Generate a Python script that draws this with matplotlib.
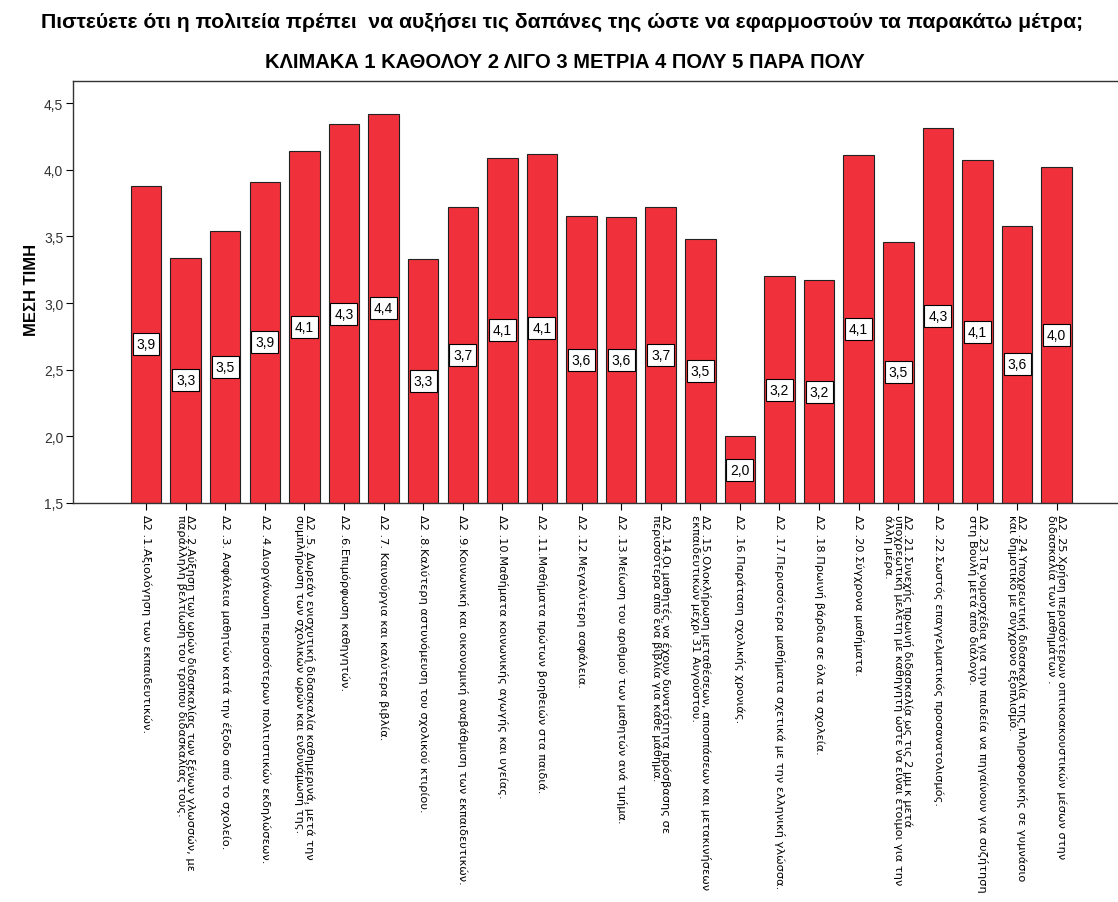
import matplotlib
matplotlib.use("Agg")
import matplotlib.pyplot as plt
import numpy as np

plt.rcParams['font.family'] = ['Liberation Sans', 'DejaVu Sans']

categories = [
    "Δ2 .1.Αξιολόγηση των εκπαιδευτικών.",
    "Δ2 .2.Αύξηση των ωρών διδασκαλίας των ξένων γλωσσών, με\nπαράλληλη βελτίωση του τρόπου διδασκαλίας τους.",
    "Δ2 .3. Ασφάλεια μαθητών κατά την έξοδο από το σχολείο.",
    "Δ2 .4.Διοργάνωση περισσότερων πολιτιστικών εκδηλώσεων.",
    "Δ2 .5. Δωρεάν ενισχυτική διδασκαλία καθημερινά, μετά την\nσυμπλήρωση των σχολικών ωρών και ενδυνάμωσή της.",
    "Δ2 .6.Επιμόρφωση καθηγητών.",
    "Δ2 .7. Καινούργια και καλύτερα βιβλία.",
    "Δ2 .8.Καλύτερη αστυνόμευση του σχολικού κτιρίου.",
    "Δ2 .9.Κοινωνική και οικονομική αναβάθμιση των εκπαιδευτικών.",
    "Δ2 .10.Μαθήματα κοινωνικής αγωγής και υγείας.",
    "Δ2 .11.Μαθήματα πρώτων βοηθειών στα παιδιά.",
    "Δ2 .12.Μεγαλύτερη ασφάλεια.",
    "Δ2 .13.Μείωση του αριθμού των μαθητών ανά τμήμα.",
    "Δ2 .14.Οι μαθητές να έχουν δυνατότητα πρόσβασης σε\nπερισσότερα από ένα βιβλία για κάθε μάθημα.",
    "Δ2 .15.Ολοκλήρωση μεταθέσεων, αποσπάσεων και μετακινήσεων\nεκπαιδευτικών μέχρι 31 Αυγούστου.",
    "Δ2 .16.Παράταση σχολικής χρονιάς.",
    "Δ2 .17.Περισσότερα μαθήματα σχετικά με την ελληνική γλώσσα.",
    "Δ2 .18.Πρωινή βάρδια σε όλα τα σχολεία.",
    "Δ2 .20.Σύγχρονα μαθήματα.",
    "Δ2 .21.Συνεχής πρωινή διδασκαλία ως τις 2 μμ κ μετά\nυποχρεωτική μελέτη με καθηγητή ώστε να είναι έτοιμοι για την\nάλλη μέρα.",
    "Δ2 .22.Σωστός επαγγελματικός προσανατολισμός.",
    "Δ2 .23.Τα νομοσχέδια για την παιδεία να πηγαίνουν για συζήτηση\nστη Βουλή μετά από διάλογο.",
    "Δ2 .24.Υποχρεωτική διδασκαλία της πληροφορικής σε γυμνάσιο\nκαι δημοτικό με σύγχρονο εξοπλισμό.",
    "Δ2 .25.Χρήση περισσότερων οπτικοακουστικών μέσων στην\nδιδασκαλία των μαθημάτων .",
]

means = [3.88, 3.34, 3.54, 3.91, 4.14, 4.34, 4.42, 3.33, 3.72, 4.09, 4.12, 3.65,
         3.645, 3.72, 3.48, 2.00, 3.20, 3.17, 4.11, 3.46, 4.31, 4.07, 3.58, 4.02]

yticks = [1.5, 2.0, 2.5, 3.0, 3.5, 4.0, 4.5]
ytick_labels = ["1,5", "2,0", "2,5", "3,0", "3,5", "4,0", "4,5"]

title1 = "Πιστεύετε ότι η πολιτεία πρέπει  να αυξήσει τις δαπάνες της ώστε να εφαρμοστούν τα παρακάτω μέτρα;"
title2 = "ΚΛΙΜΑΚΑ 1 ΚΑΘΟΛΟΥ 2 ΛΙΓΟ 3 ΜΕΤΡΙΑ 4 ΠΟΛΥ 5 ΠΑΡΑ ΠΟΛΥ"
ylabel = "ΜΕΣΗ ΤΙΜΗ"

W, H = 1118, 903
fig = plt.figure(figsize=(W / 100, H / 100), dpi=100)
ax = fig.add_axes([73 / W, 1 - 504 / H, 1 - 73 / W, (504 - 82) / H])

ymin, ymax = 1.5, 4.665
x = np.arange(len(means))
heights = [m - ymin for m in means]
ax.bar(x, heights, bottom=ymin, width=0.77, color="#F0313B",
       edgecolor="#222222", linewidth=0.8, zorder=2)

for xi, m in zip(x, means):
    lab = f"{m:.1f}".replace(".", ",")
    ax.text(xi, (m + ymin) / 2, lab, ha="center", va="center", fontsize=10,
            color="black", zorder=3,
            bbox=dict(boxstyle="square,pad=0.28", facecolor="white",
                      edgecolor="black", linewidth=0.8))

ax.set_xlim(-1.844, 24.55)
ax.set_ylim(ymin, ymax)
ax.set_yticks(yticks)
ax.set_yticklabels(ytick_labels, fontsize=10, color="#333333")
ax.set_xticks(x)
ax.set_xticklabels(categories, rotation=-90, rotation_mode="anchor",
                   ha="left", va="center", fontsize=8.2, linespacing=0.88,
                   family=["DejaVu Sans"])
ax.tick_params(axis="x", direction="out", length=5, width=0.8, pad=3)
ax.tick_params(axis="y", direction="out", length=5, width=0.8, pad=2)
for s in ["left", "top", "bottom"]:
    ax.spines[s].set_linewidth(1.0)
    ax.spines[s].set_color("#333333")
ax.spines["right"].set_visible(False)

fig.text(562 / W, 1 - 22 / H, title1, ha="center", va="center", fontsize=15.2,
         fontweight="bold")
fig.text(565 / W, 1 - 62 / H, title2, ha="center", va="center", fontsize=14.5,
         fontweight="bold")
fig.text(32 / W, 1 - 290 / H, ylabel, ha="center", va="center", fontsize=12,
         fontweight="bold", rotation=90)

fig.savefig("out.png", dpi=100)
